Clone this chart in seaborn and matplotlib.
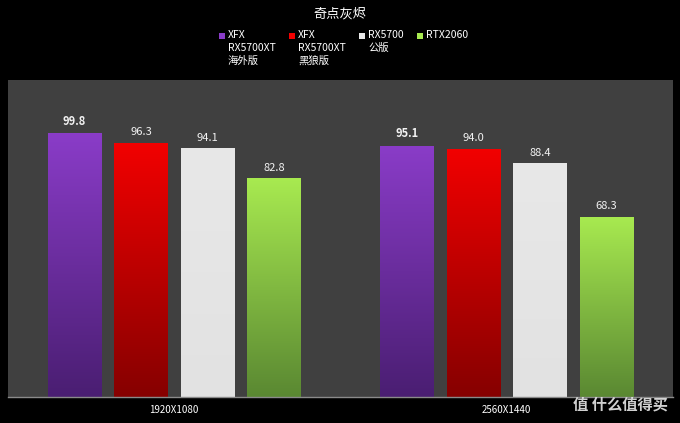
import numpy as np
import pandas as pd
import matplotlib
matplotlib.use("Agg")
import matplotlib.pyplot as plt
import seaborn as sns
from matplotlib.colors import LinearSegmentedColormap
from matplotlib.patches import Rectangle

# data
resolutions = ["1920X1080", "2560X1440"]
cards = ["XFX\nRX5700XT\n海外版", "XFX\nRX5700XT\n黑狼版", "RX5700\n公版", "RTX2060"]
xfx_overseas = [99.8, 95.1]
xfx_wolf = [96.3, 94.0]
rx5700_ref = [94.1, 88.4]
rtx2060 = [82.8, 68.3]

top_colors = ["#8a3cc8", "#f20000", "#e8e8e8", "#a8ea50"]
bottom_colors = ["#4a1e72", "#860000", "#e2e2e2", "#5a8832"]

rows = []
for card, vals in zip(cards, [xfx_overseas, xfx_wolf, rx5700_ref, rtx2060]):
    for res, v in zip(resolutions, vals):
        rows.append({"res": res, "card": card, "fps": v})
df = pd.DataFrame(rows)

sns.set_theme(style="dark")
plt.rcParams['font.family'] = ['Noto Sans CJK SC', 'DejaVu Sans']

fig = plt.figure(figsize=(6.8, 4.23), dpi=100, facecolor="black")
ax = fig.add_axes([8 / 680, 26 / 423, 665 / 680, 317 / 423])
ax.set_facecolor("#404040")

sns.barplot(data=df, x="res", y="fps", hue="card", order=resolutions,
            hue_order=cards, palette=top_colors, gap=0.2, saturation=1,
            linewidth=0, legend=False, ax=ax)

# vertical gradient on each bar
for i, cont in enumerate(ax.containers):
    cmap = LinearSegmentedColormap.from_list("g%d" % i, [bottom_colors[i], top_colors[i]])
    grad = np.linspace(1, 0, 256).reshape(-1, 1)
    for bar in cont:
        bar.set_edgecolor("none")
        x0, w, h = bar.get_x(), bar.get_width(), bar.get_height()
        im = ax.imshow(grad, extent=[x0, x0 + w, 0, h], aspect="auto",
                       cmap=cmap, vmin=0, vmax=1, zorder=bar.get_zorder() + 0.1)
        im.set_clip_path(bar)
    ax.bar_label(cont, fmt="%.1f", padding=4, color="#f2f2f2", fontsize=8,
                 fontweight="bold" if i == 0 else "normal")

ax.set_xlim(-0.5, 1.5)
ax.set_ylim(0, 120)
ax.set_yticks([])
ax.set_xlabel("")
ax.set_ylabel("")
ax.tick_params(axis="x", colors="white", labelsize=7, length=0, pad=6)
for s in ["top", "left", "right"]:
    ax.spines[s].set_visible(False)
ax.spines["bottom"].set_visible(True)
ax.spines["bottom"].set_color("#8a8a8a")
ax.spines["bottom"].set_linewidth(1)
ax.grid(False)

fig.text(0.5, 1 - 14 / 423, "奇点灰烬", ha="center", va="center",
         color="white", fontsize=9.5)

# legend laid out by hand so the swatch sits on the first line
legend_x = [228, 298, 368, 426]
for x, card, c in zip(legend_x, cards, top_colors):
    fig.add_artist(Rectangle(((x - 9) / 680, 1 - 39 / 423), 6 / 680, 6 / 423,
                             transform=fig.transFigure, color=c, lw=0))
    fig.text(x / 680, 1 - 30 / 423, card, ha="left", va="top", color="white",
             fontsize=7.5, linespacing=1.35)

fig.text(668 / 680, 1 - 404 / 423, "值 什么值得买", ha="right", va="center",
         color="#e8e8e8", fontsize=11, fontweight="bold", alpha=0.9)

fig.savefig("out.png", dpi=100, facecolor="black")
